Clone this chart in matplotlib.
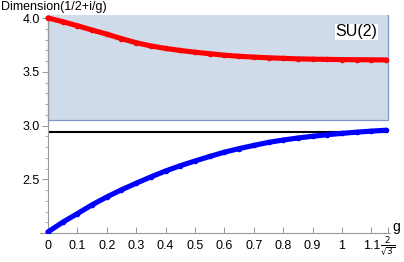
import numpy as np
import matplotlib.pyplot as plt
from matplotlib.transforms import ScaledTranslation

plt.rcParams['font.family'] = ['Liberation Sans', 'DejaVu Sans']

# g values
g = [0.0, 0.05, 0.10, 0.15, 0.20, 0.25, 0.30, 0.35, 0.40, 0.45, 0.50, 0.55,
     0.60, 0.65, 0.70, 0.75, 0.80, 0.85, 0.90, 0.95, 1.00, 1.05, 1.10, 1.15]
dim_red = [4.000, 3.966, 3.928, 3.888, 3.850, 3.808, 3.770, 3.740, 3.717, 3.698,
           3.682, 3.668, 3.654, 3.644, 3.636, 3.630, 3.625, 3.620, 3.617, 3.615,
           3.613, 3.612, 3.611, 3.610]
dim_blue = [2.010, 2.100, 2.180, 2.262, 2.335, 2.402, 2.463, 2.522, 2.577, 2.626,
            2.670, 2.712, 2.752, 2.785, 2.815, 2.843, 2.865, 2.884, 2.900, 2.914,
            2.927, 2.938, 2.948, 2.956]
black_level = 2.935
band_low = 3.055
g_max = 2 / np.sqrt(3)

xticks = [0, 0.1, 0.2, 0.3, 0.4, 0.5, 0.6, 0.7, 0.8, 0.9, 1.0, 1.1, g_max]
xlabels = ['0', '0.1', '0.2', '0.3', '0.4', '0.5', '0.6', '0.7', '0.8', '0.9',
           '1', '1.1', r'$\frac{2}{\sqrt{3}}$']
yticks = [2.5, 3.0, 3.5, 4.0]

fig = plt.figure(figsize=(4.04, 2.62), dpi=100)
ax = fig.add_axes([40/404, 29/262, 350/404, 218/262])

ax.fill_between([0, g_max], band_low, 4.2, facecolor='#cfdbe9',
                edgecolor='#7b98c6', lw=0.9, zorder=1)
ax.hlines(black_level, 0, g_max, color='black', lw=1.5, zorder=2)
ax.plot(g, dim_red, color='#ff0000', lw=3.7, marker='o', ms=3.0,
        solid_capstyle='round', zorder=3)
ax.plot(g, dim_blue, color='#0000ff', lw=3.7, marker='o', ms=3.0,
        solid_capstyle='round', zorder=3)

ax.set_xlim(-0.027, 1.163)
ax.set_ylim(2.0, 4.028)

for s in ['top', 'right']:
    ax.spines[s].set_visible(False)
ax.spines['left'].set_position(('data', 0))
ax.spines['bottom'].set_position(('data', 2.0))
for s in ['left', 'bottom']:
    ax.spines[s].set_color('#999999')
    ax.spines[s].set_linewidth(0.8)

ax.set_xticks(xticks)
ax.set_xticklabels(xlabels)
ax.set_yticks(yticks)
ax.set_yticks(np.arange(2.1, 4.0, 0.1), minor=True)
ax.tick_params(axis='x', direction='in', length=4, width=0.7, color='#999999',
               labelsize=9, pad=5)
ax.tick_params(axis='y', direction='out', length=4, width=0.7, color='#999999',
               labelsize=9, pad=2)
ax.tick_params(axis='y', which='minor', direction='out', length=2.2, width=0.6,
               color='#999999')
ax.yaxis.set_major_formatter(plt.FormatStrFormatter('%.1f'))

frac = ax.get_xticklabels()[-1]
frac.set_fontsize(9)
frac.set_transform(frac.get_transform() + ScaledTranslation(0, 4/72, fig.dpi_scale_trans))

ax.text(1.048, 3.87, 'SU(2)', fontsize=11.5, ha='center', va='center',
        bbox=dict(facecolor='white', edgecolor='none', pad=0.5), zorder=4)
ax.text(1.172, 2.06, 'g', fontsize=10, ha='left', va='center', clip_on=False)
fig.text(0.002, 0.975, 'Dimension(1/2+i/g)', fontsize=9, ha='left', va='center')

fig.savefig('out.png', dpi=100)
